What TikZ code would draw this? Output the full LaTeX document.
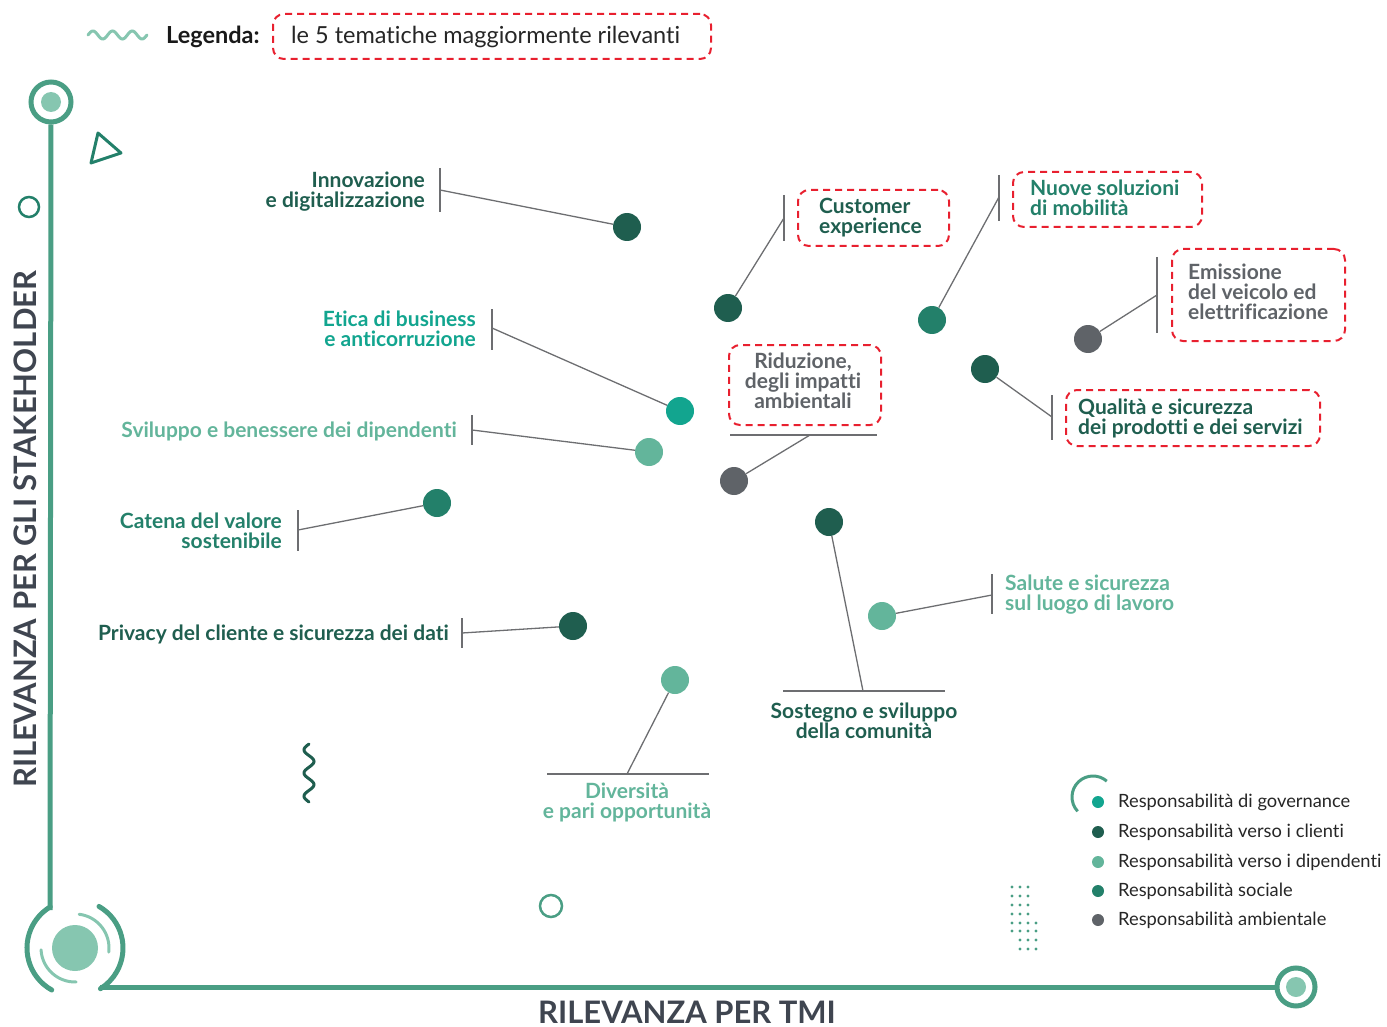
\documentclass[tikz,border=0pt]{standalone}
\usepackage{fontspec}
\setmainfont{Lato}[Ligatures=NoCommon]

\definecolor{gov}{HTML}{12A58F}
\definecolor{cli}{HTML}{1F5E4F}
\definecolor{dip}{HTML}{63B59B}
\definecolor{soc}{HTML}{23806A}
\definecolor{amb}{HTML}{5F6368}
\definecolor{axisgreen}{HTML}{4A9E84}
\definecolor{softgreen}{HTML}{86C6B0}
\definecolor{hl}{HTML}{E8202F}
\definecolor{leadergray}{HTML}{6D6E71}
\definecolor{axislabel}{HTML}{3F4550}

\tikzset{
  topicdot/.style={circle, fill=#1, minimum size=28pt, inner sep=0pt},
  keydot/.style={circle, fill=#1, minimum size=12pt, inner sep=0pt},
  leaderline/.style={draw=leadergray, line width=1.3pt},
  tickbar/.style={draw=leadergray, line width=1.5pt},
  topiclabel/.style={text=#1, inner sep=0pt, font=\bfseries\fontsize{21}{20}\selectfont},
  keylabel/.style={inner sep=0pt, anchor=west, text=black!85, font=\fontsize{18.3}{19}\selectfont},
  hlbox/.style={draw=hl, dash pattern=on 7pt off 5pt, line width=2pt, rounded corners=11pt,
                inner sep=0pt, anchor=north west},
  axisline/.style={draw=axisgreen, line width=5pt},
  axistitle/.style={text=axislabel, inner sep=0pt, font=\bfseries\fontsize{31}{33}\selectfont},
}

\begin{document}
\begin{tikzpicture}[x=1pt, y=1pt, yscale=-1]
\useasboundingbox (0,0) rectangle (1387,1027);

% ---------- header legend ----------
\draw[softgreen, line width=3pt, line cap=round]
  plot[domain=88:147, samples=80] (\x, {35-4*sin((\x-88)/59*3*360)});
\node[anchor=west, inner sep=0pt, text=black!90, font=\bfseries\fontsize{23.5}{25}\selectfont]
  (legtitle) at (166,37) {Legenda:};
\node[hlbox, minimum width=438pt, minimum height=45pt] (legbox) at (272,13) {};
\node[anchor=west, inner sep=0pt, text=black!85, font=\fontsize{23.5}{25}\selectfont]
  (legtext) at (291,37) {le 5 tematiche maggiormente rilevanti};

% ---------- axes ----------
\node[circle, draw=axisgreen, line width=5pt, minimum size=40pt, inner sep=0pt] (ytop) at (51,102) {};
\node[circle, fill=softgreen, minimum size=20pt, inner sep=0pt] (ytopin) at (51,102) {};
\node[circle, draw=axisgreen, line width=5pt, minimum size=38pt, inner sep=0pt] (xend) at (1296,987) {};
\node[circle, fill=softgreen, minimum size=20pt, inner sep=0pt] (xendin) at (1296,987) {};
\coordinate (origin) at (75,948);
\coordinate (ybot) at (50,910);
\coordinate (xstart) at (100,987);
\draw[axisline] (ytop.south) -- (ybot);
\draw[axisline] (xstart) -- (xend.west);

% corner emblem
\node[circle, fill=softgreen, minimum size=46pt, inner sep=0pt] (core) at (origin) {};
\draw[axisgreen, line width=5pt, line cap=round] (origin) ++(119:48) arc[start angle=119, end angle=239, radius=48];
\draw[axisgreen, line width=5pt, line cap=round] (origin) ++(-60:48) arc[start angle=-60, end angle=58, radius=48];
\draw[softgreen, line width=3pt, line cap=round] (origin) ++(-83:34) arc[start angle=-83, end angle=7, radius=34];
\draw[softgreen, line width=3pt, line cap=round] (origin) ++(88:34) arc[start angle=88, end angle=177, radius=34];

% axis titles
\node[axistitle, rotate=90] (ytitle) at (25,529) {RILEVANZA PER GLI STAKEHOLDER};
\node[axistitle, anchor=base] (xtitle) at (687,1023) {RILEVANZA PER TMI};

% ---------- decorations ----------
\draw[soc, line width=3pt, line join=round] (91,163) -- (121,153) -- (98,133) -- cycle;
\node[circle, draw=soc, line width=2.5pt, minimum size=20pt, inner sep=0pt] (ring1) at (29,207) {};
\node[circle, draw=axisgreen, line width=2.5pt, minimum size=22pt, inner sep=0pt] (ring2) at (551,906) {};
\draw[cli, line width=3pt, line cap=round]
  plot[domain=744:802, samples=80] ({309-5*sin((\x-744)/58*2.5*360)}, \x);
\foreach \yy in {887,896,905,914}{\foreach \xx in {1012,1020,1028}{\fill[axisgreen] (\xx,\yy) circle (1.7);}}
\foreach \yy in {923,931}{\foreach \xx in {1012,1020,1028,1036}{\fill[axisgreen] (\xx,\yy) circle (1.7);}}
\foreach \yy in {940,949}{\foreach \xx in {1020,1028,1036}{\fill[axisgreen] (\xx,\yy) circle (1.7);}}
\draw[axisgreen, line width=3pt] (1093,797) ++(137:21) arc[start angle=137, end angle=311, radius=21];

% ---------- colour key ----------
\node[keydot=gov] (k1) at (1098,802) {};
\node[keylabel] (k1t) at (1118,802) {Responsabilità di governance};
\node[keydot=cli] (k2) at (1098,832) {};
\node[keylabel] (k2t) at (1118,832) {Responsabilità verso i clienti};
\node[keydot=dip] (k3) at (1098,862) {};
\node[keylabel] (k3t) at (1118,862) {Responsabilità verso i dipendenti};
\node[keydot=soc] (k4) at (1098,891) {};
\node[keylabel] (k4t) at (1118,891) {Responsabilità sociale};
\node[keydot=amb] (k5) at (1098,920) {};
\node[keylabel] (k5t) at (1118,920) {Responsabilità ambientale};

% ---------- topic markers ----------
\node[topicdot=cli] (innovdot) at (627,227) {};
\node[topicdot=cli] (custdot) at (728,308) {};
\node[topicdot=soc] (mobdot) at (932,320) {};
\node[topicdot=amb] (emisdot) at (1088,339) {};
\node[topicdot=amb] (ridudot) at (734,481) {};
\node[topicdot=cli] (qualdot) at (985,369) {};
\node[topicdot=gov] (eticadot) at (680,411) {};
\node[topicdot=dip] (svildot) at (649,452) {};
\node[topicdot=soc] (catenadot) at (437,503) {};
\node[topicdot=cli] (privdot) at (573,626) {};
\node[topicdot=dip] (diversdot) at (675,680) {};
\node[topicdot=cli] (sostdot) at (829,522) {};
\node[topicdot=dip] (salutedot) at (882,616) {};

% ---------- tick bars ----------
\draw[tickbar] (440,168) -- (440,212);   \coordinate (innovbar) at (440,190);
\draw[tickbar] (784,195) -- (784,241);   \coordinate (custbar) at (784,218);
\draw[tickbar] (999,175) -- (999,221);   \coordinate (mobbar) at (999,197);
\draw[tickbar] (1157,257) -- (1157,333); \coordinate (emisbar) at (1157,295);
\draw[tickbar] (730,435) -- (877,435);   \coordinate (ridubar) at (810,435);
\draw[tickbar] (1052,395) -- (1052,440); \coordinate (qualbar) at (1052,417);
\draw[tickbar] (492,309) -- (492,350);   \coordinate (eticabar) at (492,328);
\draw[tickbar] (472,415) -- (472,445);   \coordinate (svilbar) at (472,430);
\draw[tickbar] (298,510) -- (298,551);   \coordinate (catenabar) at (298,530);
\draw[tickbar] (462,618) -- (462,648);   \coordinate (privbar) at (462,633);
\draw[tickbar] (547,774) -- (709,774);   \coordinate (diversbar) at (627,774);
\draw[tickbar] (783,691) -- (945,691);   \coordinate (sostbar) at (863,691);
\draw[tickbar] (992,574) -- (992,614);   \coordinate (salutebar) at (992,595);

% ---------- leader lines ----------
\foreach \t in {innov,cust,mob,emis,ridu,qual,etica,svil,catena,priv,divers,sost,salute}
  \draw[leaderline] (\t bar) -- (\t dot);

% ---------- highlight boxes ----------
\node[hlbox, minimum width=151pt, minimum height=56pt] (custbox) at (797,189) {};
\node[hlbox, minimum width=189pt, minimum height=55pt] (mobbox) at (1012,171) {};
\node[hlbox, minimum width=173pt, minimum height=92pt] (emisbox) at (1171,248) {};
\node[hlbox, minimum width=152pt, minimum height=80pt] (ridubox) at (728,344) {};
\node[hlbox, minimum width=254pt, minimum height=56pt] (qualbox) at (1065,389) {};

% ---------- topic labels ----------
\node[topiclabel=cli, anchor=east, align=right] (innovlbl) at (425,192) {Innovazione\\e digitalizzazione};
\node[topiclabel=gov, anchor=east, align=right] (eticalbl) at (476,329) {Etica di business\\e anticorruzione};
\node[topiclabel=dip, anchor=east, align=right] (svillbl) at (457,431) {Sviluppo e benessere dei dipendenti};
\node[topiclabel=soc, anchor=east, align=right] (catenalbl) at (282,531) {Catena del valore\\sostenibile};
\node[topiclabel=cli, anchor=east, align=right] (privlbl) at (449,634) {Privacy del cliente e sicurezza dei dati};
\node[topiclabel=cli, anchor=west, align=left] (custlbl) at (819,218) {Customer\\experience};
\node[topiclabel=soc, anchor=west, align=left] (moblbl) at (1030,198) {Nuove soluzioni\\di mobilità};
\node[topiclabel=amb, anchor=west, align=left] (emislbl) at (1188,292) {Emissione\\del veicolo ed\\elettrificazione};
\node[topiclabel=amb, align=center] (ridulbl) at (803,381) {Riduzione,\\degli impatti\\ambientali};
\node[topiclabel=cli, anchor=west, align=left] (quallbl) at (1078,418) {Qualità e sicurezza\\dei prodotti e dei servizi};
\node[topiclabel=dip, anchor=west, align=left] (salutelbl) at (1005,595) {Salute e sicurezza\\sul luogo di lavoro};
\node[topiclabel=cli, align=center] (sostlbl) at (864,721) {Sostegno e sviluppo\\della comunità};
\node[topiclabel=dip, align=center] (diverslbl) at (627,802) {Diversità\\e pari opportunità};

\end{tikzpicture}
\end{document}
